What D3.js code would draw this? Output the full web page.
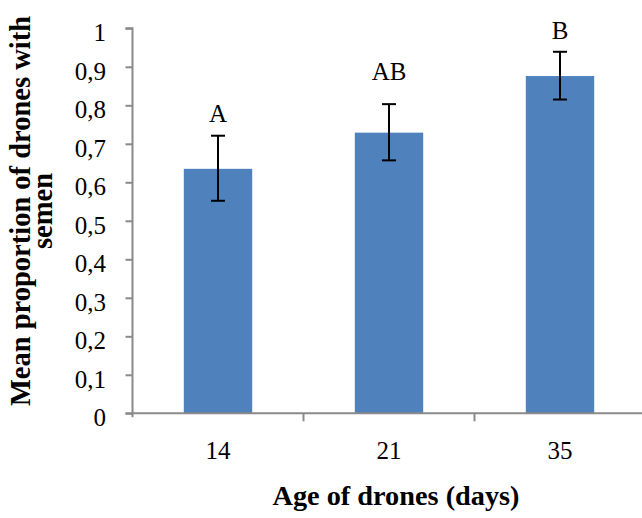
<!DOCTYPE html>
<html>
<head>
<meta charset="utf-8">
<script src="https://cdn.jsdelivr.net/npm/d3@7"></script>
<style>
  html, body { margin: 0; padding: 0; background: #fff; }
  svg { display: block; }
  text { font-family: "Liberation Serif", "DejaVu Serif", serif; fill: #000; }
</style>
</head>
<body>
<svg id="chart" width="642" height="518"></svg>
<script>
// Drone age groups (days)
const categories = ["14", "21", "35"];
// Mean proportion of drones with semen
const means = [0.635, 0.729, 0.876];
// Error bar limits
const errLow = [0.552, 0.657, 0.815];
const errHigh = [0.721, 0.803, 0.939];
// Significance letters and the height (in data units) where each is set
const letters = ["A", "AB", "B"];
const letterAt = [0.757, 0.866, 0.973];
// Y tick values and their labels (decimal comma)
const yTicks = [0, 0.1, 0.2, 0.3, 0.4, 0.5, 0.6, 0.7, 0.8, 0.9, 1];
const yTickLabels = ["0", "0,1", "0,2", "0,3", "0,4", "0,5", "0,6", "0,7", "0,8", "0,9", "1"];

const svg = d3.select("#chart");
const axisColor = "#8a8a8a";
const fontFamily = "'Liberation Serif', 'DejaVu Serif', serif";
const labelSize = "25px";

const plot = { left: 132.5, right: 645.5, top: 28.3, bottom: 413.3 };

const x = d3.scaleBand()
  .domain(categories)
  .range([plot.left, plot.right])
  .paddingInner(0.6)
  .paddingOuter(0.3);

const y = d3.scaleLinear()
  .domain([0, 1])
  .range([plot.bottom, plot.top]);

// Bars
svg.append("g").selectAll("rect")
  .data(categories)
  .join("rect")
  .attr("x", d => x(d))
  .attr("width", x.bandwidth())
  .attr("y", (d, i) => y(means[i]))
  .attr("height", (d, i) => y(0) - y(means[i]))
  .attr("fill", "#4f81bd");

// Y axis
const yAxis = d3.axisLeft(y)
  .tickValues(yTicks)
  .tickFormat((d, i) => yTickLabels[i])
  .tickSize(7)
  .tickPadding(19.5);

const gy = svg.append("g")
  .attr("transform", `translate(${plot.left},0)`)
  .call(yAxis);
gy.select(".domain").attr("d", `M-7,${plot.top}H0V${plot.bottom + 4}`)
  .attr("stroke", axisColor).attr("stroke-width", 2).attr("fill", "none");
gy.selectAll(".tick line").attr("stroke", axisColor).attr("stroke-width", 2);
gy.selectAll(".tick text")
  .style("font-family", fontFamily)
  .style("font-size", labelSize)
  .attr("dy", "0.5em")
  .attr("fill", "#000");

// X axis: category labels under each bar, ticks at category boundaries
const xAxis = d3.axisBottom(x).tickSize(0);
const gx = svg.append("g")
  .attr("transform", `translate(0,${plot.bottom})`)
  .call(xAxis);
gx.select(".domain").attr("d", `M${plot.left - 7},0H642`)
  .attr("stroke", axisColor).attr("stroke-width", 2).attr("fill", "none");
gx.selectAll(".tick text")
  .style("font-family", fontFamily)
  .style("font-size", labelSize)
  .attr("y", 45.5)
  .attr("dy", 0)
  .attr("fill", "#000");
gx.append("g").selectAll("line")
  .data(d3.range(1, categories.length))
  .join("line")
  .attr("x1", i => plot.left + i * (plot.right - plot.left) / categories.length)
  .attr("x2", i => plot.left + i * (plot.right - plot.left) / categories.length)
  .attr("y1", 0).attr("y2", 8)
  .attr("stroke", axisColor).attr("stroke-width", 2);

// Error bars
const capHalf = 7;
const eb = svg.append("g").attr("stroke", "#000").attr("stroke-width", 2);
categories.forEach((c, i) => {
  const cx = x(c) + x.bandwidth() / 2;
  eb.append("line").attr("x1", cx).attr("x2", cx)
    .attr("y1", y(errLow[i])).attr("y2", y(errHigh[i]));
  eb.append("line").attr("x1", cx - capHalf).attr("x2", cx + capHalf)
    .attr("y1", y(errHigh[i])).attr("y2", y(errHigh[i]));
  eb.append("line").attr("x1", cx - capHalf).attr("x2", cx + capHalf)
    .attr("y1", y(errLow[i])).attr("y2", y(errLow[i]));
});

// Significance letters
svg.append("g").selectAll("text")
  .data(letters)
  .join("text")
  .attr("x", (d, i) => x(categories[i]) + x.bandwidth() / 2)
  .attr("y", (d, i) => y(letterAt[i]))
  .attr("text-anchor", "middle")
  .style("font-size", labelSize)
  .text(d => d);

// Axis titles
svg.append("text")
  .attr("x", 396)
  .attr("y", 505)
  .attr("text-anchor", "middle")
  .style("font-size", "28.3px")
  .style("font-weight", "bold")
  .text("Age of drones (days)");

const yTitle = svg.append("text")
  .attr("transform", "translate(0,211) rotate(-90)")
  .attr("text-anchor", "middle")
  .style("font-size", "28.5px")
  .style("font-weight", "bold");
yTitle.append("tspan").attr("x", 0).attr("y", 30).text("Mean proportion of drones with");
yTitle.append("tspan").attr("x", 0).attr("y", 51.5).text("semen");
</script>
</body>
</html>
